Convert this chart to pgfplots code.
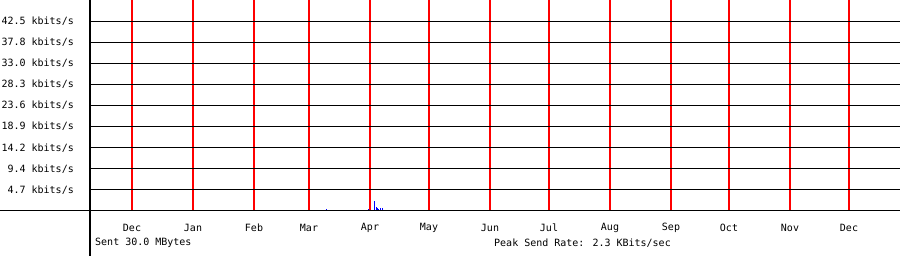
\documentclass[border=0pt]{standalone}
\usepackage{pgfplots}
\pgfplotsset{compat=1.18}
\usepackage{fontspec}
\setmainfont{DejaVu Sans Mono}
\begin{document}
\fontsize{10pt}{12pt}\selectfont
\begin{tikzpicture}
\useasboundingbox (-90pt,-45pt) rectangle (810pt,211pt);
\begin{axis}[
  scale only axis, width=810pt, height=211pt,
  xmin=90, xmax=900, ymin=0, ymax=47.2,
  axis line style={draw=none},
  major tick length=0pt,
  clip=false,
  xtick={132,193,254,309,370,429,490,549,610,671,729,790,849},
  xticklabels={Dec,Jan,Feb,Mar,Apr,May,Jun,Jul,Aug,Sep,Oct,Nov,Dec},
  ytick={4.72,9.44,14.16,18.88,23.6,28.32,33.04,37.76,42.48},
  yticklabels={4.7 kbits/s,9.4 kbits/s,14.2 kbits/s,18.9 kbits/s,23.6 kbits/s,28.3 kbits/s,33.0 kbits/s,37.8 kbits/s,42.5 kbits/s},
  xticklabel style={font=\fontsize{10pt}{12pt}\selectfont, anchor=center, inner sep=0pt, yshift=-17pt},
  yticklabel style={font=\fontsize{10pt}{12pt}\selectfont, anchor=east, inner sep=0pt, xshift=-16pt},
  ymajorgrids, xmajorgrids,
  every axis y grid/.style={black, line width=1pt},
  every axis x grid/.style={red, line width=2pt},
]
\addplot[ycomb, blue, line width=1pt, no marks] coordinates {
(326,0.5) (368,0.5) (374,2.3) (376,0.8) (377,0.6) (378,0.5) (380,0.7) (382,0.6) (394,0.3)
};
\end{axis}
\draw[black, line width=1pt] (0,-45pt) -- (0,211pt);
\draw[black, line width=1pt] (-90pt,0) -- (810pt,0);
\node[anchor=west, inner sep=0pt] at (5pt,-32pt) {Sent 30.0 MBytes};
\node[anchor=west, inner sep=0pt] at (404pt,-32pt) {Peak Send Rate: 2.3 KBits/sec};
\end{tikzpicture}
\end{document}
